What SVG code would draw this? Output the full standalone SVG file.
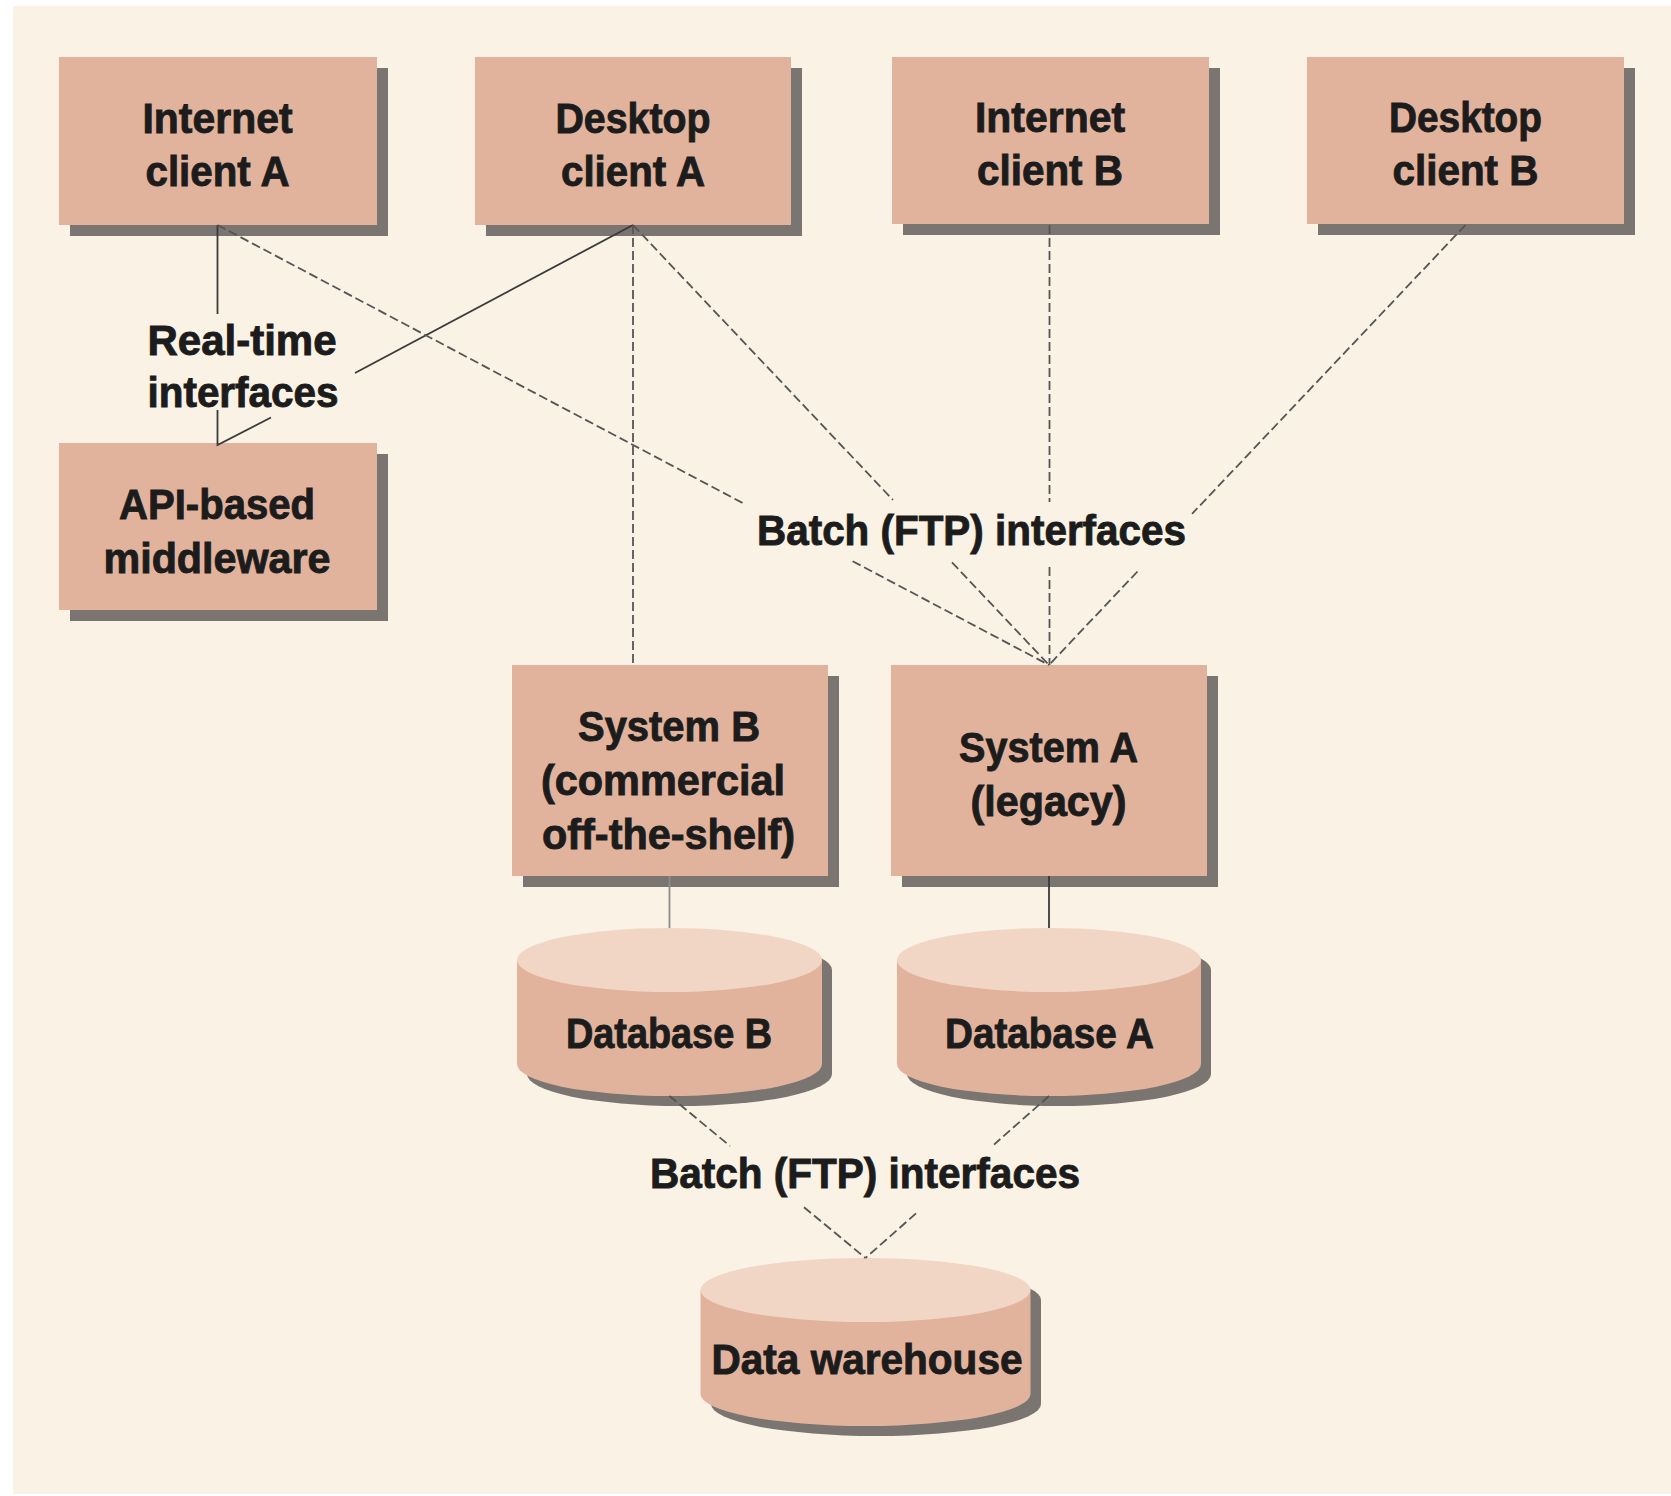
<svg xmlns="http://www.w3.org/2000/svg" width="1671" height="1496" viewBox="0 0 1671 1496">
<defs>
<style>
.bg{fill:#faf2e4}
.box{fill:#e2b39c}
.top{fill:#f2d6c5}
.sh{fill:#7a7571}
.t{font-family:"Liberation Sans Narrow","Liberation Sans",Arial,sans-serif;font-weight:bold;font-size:42px;fill:#1c1c1c;stroke:#1c1c1c;stroke-width:0.9;text-anchor:middle}
.solid{stroke:#3a3a3a;stroke-width:1.8;fill:none}
.solidl{stroke:#8c8c8c;stroke-width:1.8;fill:none}
.dash{stroke:#555;stroke-width:1.8;fill:none;stroke-dasharray:9 4}
</style>
</defs>
<rect x="0" y="0" width="1671" height="1496" fill="#ffffff"/>
<rect class="bg" x="13" y="6" width="1658" height="1488"/>

<g id="internet-client-a">
<rect class="sh" x="70" y="68" width="318" height="168"/>
<rect class="box" x="59" y="57" width="318" height="168"/>
<text class="t" x="217.5" y="132.5" textLength="150" lengthAdjust="spacingAndGlyphs">Internet</text>
<text class="t" x="217.5" y="185.5" textLength="144" lengthAdjust="spacingAndGlyphs">client A</text>
</g>
<g id="desktop-client-a">
<rect class="sh" x="486" y="68" width="316" height="168"/>
<rect class="box" x="475" y="57" width="316" height="168"/>
<text class="t" x="633" y="132.5" textLength="155" lengthAdjust="spacingAndGlyphs">Desktop</text>
<text class="t" x="633" y="185.5" textLength="144" lengthAdjust="spacingAndGlyphs">client A</text>
</g>
<g id="internet-client-b">
<rect class="sh" x="903" y="68" width="317" height="167"/>
<rect class="box" x="892" y="57" width="317" height="167"/>
<text class="t" x="1050" y="132" textLength="150" lengthAdjust="spacingAndGlyphs">Internet</text>
<text class="t" x="1050" y="185" textLength="146" lengthAdjust="spacingAndGlyphs">client B</text>
</g>
<g id="desktop-client-b">
<rect class="sh" x="1318" y="68" width="317" height="167"/>
<rect class="box" x="1307" y="57" width="317" height="167"/>
<text class="t" x="1465.5" y="132" textLength="153" lengthAdjust="spacingAndGlyphs">Desktop</text>
<text class="t" x="1465.5" y="185" textLength="146" lengthAdjust="spacingAndGlyphs">client B</text>
</g>
<g id="api-middleware">
<rect class="sh" x="70" y="454" width="318" height="167"/>
<rect class="box" x="59" y="443" width="318" height="167"/>
<text class="t" x="217" y="519" textLength="196" lengthAdjust="spacingAndGlyphs">API-based</text>
<text class="t" x="217" y="573" textLength="227" lengthAdjust="spacingAndGlyphs">middleware</text>
</g>
<g id="system-b">
<rect class="sh" x="523" y="676" width="316" height="211"/>
<rect class="box" x="512" y="665" width="316" height="211"/>
<text class="t" x="669" y="741" textLength="182" lengthAdjust="spacingAndGlyphs">System B</text>
<text class="t" x="663" y="794.5" textLength="244" lengthAdjust="spacingAndGlyphs">(commercial</text>
<text class="t" x="668.5" y="849" textLength="253" lengthAdjust="spacingAndGlyphs">off-the-shelf)</text>
</g>
<g id="system-a">
<rect class="sh" x="902" y="676" width="316" height="211"/>
<rect class="box" x="891" y="665" width="316" height="211"/>
<text class="t" x="1048.5" y="762" textLength="179" lengthAdjust="spacingAndGlyphs">System A</text>
<text class="t" x="1048.5" y="816" textLength="156" lengthAdjust="spacingAndGlyphs">(legacy)</text>
</g>
<g id="database-b">
<path class="sh" d="M527 970 L527 1074 A152.5 32 0 0 0 832 1074 L832 970 A152.5 32 0 0 0 527 970 Z"/>
<path class="box" d="M517 960 L517 1064 A152.5 32 0 0 0 822 1064 L822 960 Z"/>
<ellipse class="top" cx="669.5" cy="960" rx="152.5" ry="32"/>
<text class="t" x="669" y="1048" textLength="206" lengthAdjust="spacingAndGlyphs">Database B</text>
</g>
<g id="database-a">
<path class="sh" d="M907 970 L907 1074 A152 32 0 0 0 1211 1074 L1211 970 A152 32 0 0 0 907 970 Z"/>
<path class="box" d="M897 960 L897 1064 A152 32 0 0 0 1201 1064 L1201 960 Z"/>
<ellipse class="top" cx="1049" cy="960" rx="152" ry="32"/>
<text class="t" x="1049.5" y="1048" textLength="209" lengthAdjust="spacingAndGlyphs">Database A</text>
</g>
<g id="data-warehouse">
<path class="sh" d="M711 1300 L711 1404 A165 32 0 0 0 1041 1404 L1041 1300 A165 32 0 0 0 711 1300 Z"/>
<path class="box" d="M700.5 1290 L700.5 1394 A165 32 0 0 0 1030.5 1394 L1030.5 1290 Z"/>
<ellipse class="top" cx="865.5" cy="1290" rx="165" ry="32"/>
<text class="t" x="867" y="1374" textLength="311" lengthAdjust="spacingAndGlyphs">Data warehouse</text>
</g>

<g id="connectors">
<path class="solid" d="M217.5 225 V314 M217.5 410 V445 L271 417.5 M633 225 L355 373"/>
<path class="dash" d="M217.5 225 L742.7 503 M852.6 561.2 L1049 665"/>
<path class="dash" d="M633 225 V663"/>
<path class="dash" d="M633 225 L893 500 M952 562.4 L1049 665"/>
<path class="dash" d="M1049.5 225 V502 M1049.5 567 V665"/>
<path class="dash" d="M1465.5 225 L1192 513.9 M1137.5 571.5 L1049 665"/>
<path class="solidl" d="M669.5 876 V928"/>
<path class="solid" d="M1049 876 V928"/>
<path class="dash" d="M669.5 1096 L730 1146 M804 1207.2 L865.5 1258"/>
<path class="dash" d="M1049 1096 L994 1144.6 M916 1213.4 L865.5 1258"/>
</g>

<g id="labels">
<text class="t" x="147.5" y="354.5" style="text-anchor:start" textLength="189" lengthAdjust="spacingAndGlyphs">Real-time</text>
<text class="t" x="147.5" y="406.5" style="text-anchor:start" textLength="191" lengthAdjust="spacingAndGlyphs">interfaces</text>
<text class="t" x="757" y="545" style="text-anchor:start" textLength="429" lengthAdjust="spacingAndGlyphs">Batch (FTP) interfaces</text>
<text class="t" x="650" y="1187.5" style="text-anchor:start" textLength="430" lengthAdjust="spacingAndGlyphs">Batch (FTP) interfaces</text>
</g>
</svg>
